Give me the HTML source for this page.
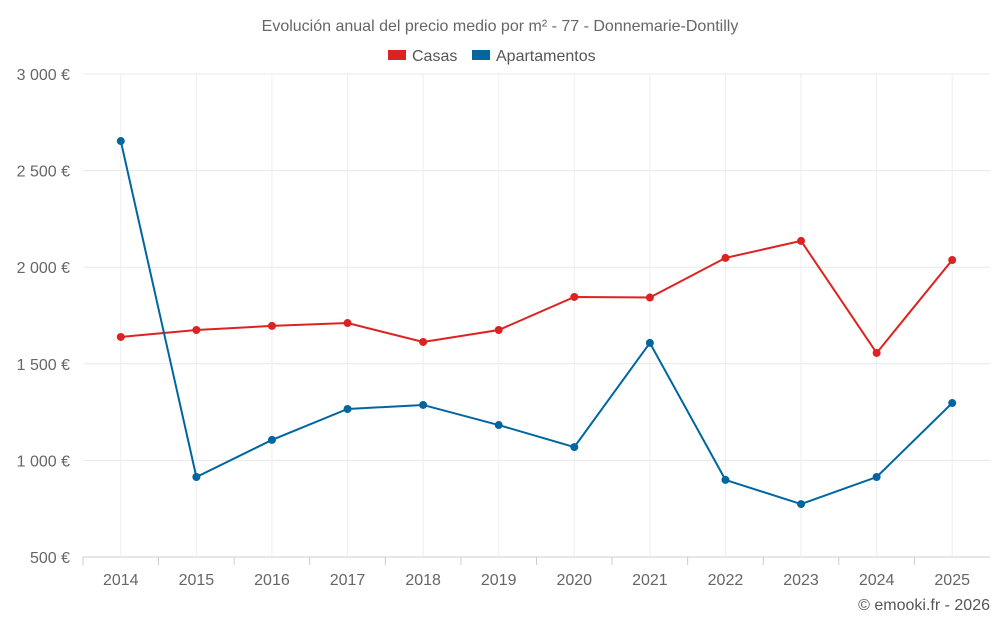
<!DOCTYPE html>
<html><head><meta charset="utf-8"><style>
body{margin:0;background:#fff;font-family:"Liberation Sans",sans-serif;}
svg text{font-family:"Liberation Sans",sans-serif;}
</style></head><body>
<svg id="chart" width="1000" height="625">
<text x="500" y="31" text-anchor="middle" font-size="16" fill="#666">Evolución anual del precio medio por m² - 77 - Donnemarie-Dontilly</text>
<g>
<g><rect x="388" y="50" width="18" height="10" fill="#dd2222"/><text x="412" y="61" font-size="16" fill="#555">Casas</text></g>
<g><rect x="472" y="50" width="18" height="10" fill="#0066a0"/><text x="496" y="61" font-size="16" fill="#555">Apartamentos</text></g>
</g>
<g id="grid"></g><g id="axes"></g><g id="series"></g>
<text x="990" y="610" text-anchor="end" font-size="16" fill="#555">© emooki.fr - 2026</text>
</svg>
<script>
const years=["2014","2015","2016","2017","2018","2019","2020","2021","2022","2023","2024","2025"];
const casas=[1639,1675,1696,1711,1613,1675,1846,1843,2048,2136,1556,2037];
const apartamentos=[2653,914,1106,1266,1287,1183,1069,1608,899,774,914,1297];
const yTicks=[500,1000,1500,2000,2500,3000];
const yLabels=["500 €","1 000 €","1 500 €","2 000 €","2 500 €","3 000 €"];
const L=83,R=990,T=74,B=557,ns="http://www.w3.org/2000/svg";
const bw=(R-L)/years.length;
const x=i=>L+bw*(i+0.5);
const y=v=>B-(v-500)/2500*(B-T);
function mk(tag,attrs,parent){const e=document.createElementNS(ns,tag);for(const k in attrs)e.setAttribute(k,attrs[k]);parent.appendChild(e);return e;}
const grid=document.getElementById('grid'),axes=document.getElementById('axes'),series=document.getElementById('series');
yTicks.forEach((t,i)=>{
 const l=mk('line',{x1:L,x2:R,y1:y(t),y2:y(t),stroke:i==0?'#ccc':'#e8e8e8'},grid);
 
 
 const tx=mk('text',{x:70,y:y(t)+6,'text-anchor':'end','font-size':16,fill:'#666'},axes);tx.textContent=yLabels[i];
 
 
});
years.forEach((yr,i)=>{
 const l=mk('line',{x1:x(i),x2:x(i),y1:T,y2:B,stroke:'#eee'},grid);
 
 
 const tk=mk('line',{x1:L+bw*i,x2:L+bw*i,y1:B,y2:B+8,stroke:'#ccc'},axes);
 
 
 const tx=mk('text',{x:x(i),y:585,'text-anchor':'middle','font-size':16,fill:'#666'},axes);tx.textContent=yr;
 
 
});
function draw(vals,color,name){
 const p=mk('polyline',{points:vals.map((v,i)=>x(i)+','+y(v)).join(' '),fill:'none',stroke:color,'stroke-width':2},series);
 
 
 vals.forEach((v,i)=>{const c=mk('circle',{cx:x(i),cy:y(v),r:4,fill:color},series);
 
 });
}
draw(casas,'#dd2222','casas');
draw(apartamentos,'#0066a0','apartamentos');
</script>
</body></html>
